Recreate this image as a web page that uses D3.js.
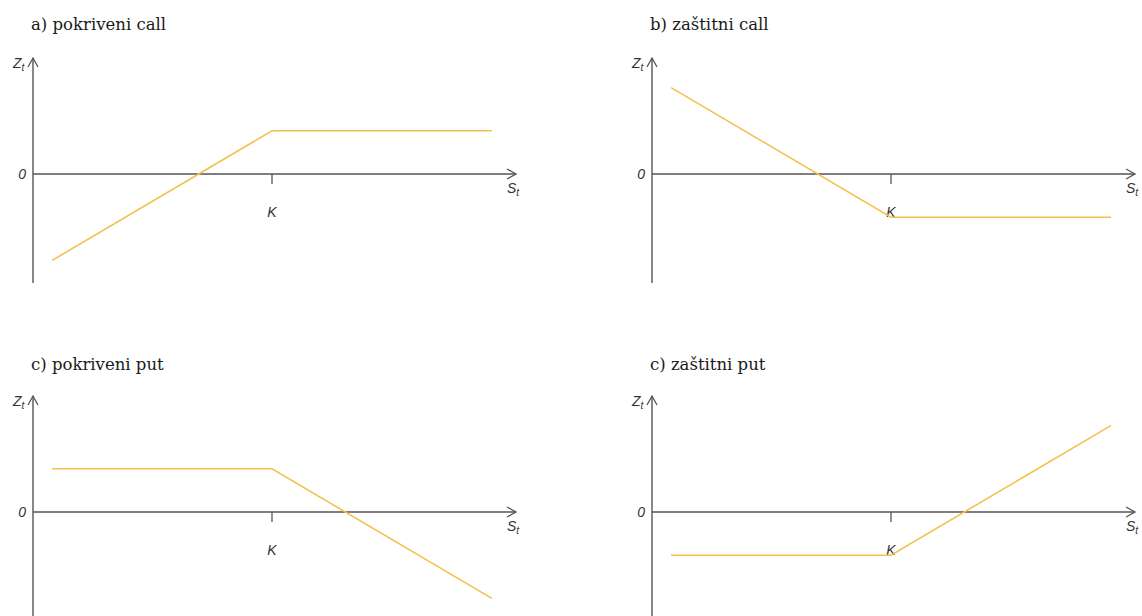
<!DOCTYPE html>
<html>
<head>
<meta charset="utf-8">
<script src="https://cdn.jsdelivr.net/npm/d3@7"></script>
<style>
  body { margin: 0; background: #fff; }
  .title { font-family: "DejaVu Serif", serif; font-size: 16.5px; fill: #1a1a1a; }
  .lab { font-family: "Liberation Sans", Arial, sans-serif; font-size: 14px; font-style: italic; fill: #333; }
</style>
</head>
<body>
<svg id="chart" width="1142" height="616"></svg>
<script>
// payoff diagrams: S_t vs Z_t, strike K
var titles = ["a) pokriveni call", "b) zaštitni call", "c) pokriveni put", "c) zaštitni put"];
var strikeK = 5;
var sStart = 0.4, sEnd = 9.6;
var payoffs = [
	[-4, 2, 2],   // pokriveni call
	[4, -2, -2],  // zastitni call
	[2, 2, -4],   // pokriveni put
	[-2, -2, 4]   // zastitni put
];
var sValues = [sStart, strikeK, sEnd];

var svg = d3.select("#chart");
var origins = [[33, 174], [652, 174], [33, 512], [652, 512]];

var x = d3.scaleLinear().domain([0, 10]).range([0, 478]);
var y = d3.scaleLinear().domain([0, 1]).range([0, -21.6]);

var axisColor = "#555";
var lineColor = "#f5c04e";

origins.forEach(function(o, i) {
	var g = svg.append("g").attr("transform", "translate(" + o[0] + "," + o[1] + ")");

	g.append("text").attr("class", "title")
		.attr("x", -2).attr("y", (i < 2 ? 30 : 370) - o[1])
		.text(titles[i]);

	// y axis
	var yTop = -116, yBot = i < 2 ? 109 : 120;
	g.append("line").attr("x1", 0).attr("x2", 0).attr("y1", yTop).attr("y2", yBot)
		.attr("stroke", axisColor).attr("stroke-width", 1.4);
	g.append("path").attr("d", "M-5," + (yTop + 9) + "L0," + yTop + "L5," + (yTop + 9))
		.attr("fill", "none").attr("stroke", axisColor).attr("stroke-width", 1.3);

	// x axis
	var xEnd = 483;
	g.append("line").attr("x1", 0).attr("x2", xEnd).attr("y1", 0).attr("y2", 0)
		.attr("stroke", axisColor).attr("stroke-width", 1.4);
	g.append("path").attr("d", "M" + (xEnd - 9) + ",-5L" + xEnd + ",0L" + (xEnd - 9) + ",5")
		.attr("fill", "none").attr("stroke", axisColor).attr("stroke-width", 1.3);

	// strike tick
	g.append("line").attr("x1", x(strikeK)).attr("x2", x(strikeK)).attr("y1", 0).attr("y2", 10)
		.attr("stroke", axisColor).attr("stroke-width", 1.3);

	// labels
	g.append("text").attr("class", "lab").attr("x", -7).attr("y", 5)
		.attr("text-anchor", "end").text("0");
	var zt = g.append("text").attr("class", "lab").attr("x", -20).attr("y", -106);
	zt.append("tspan").text("Z");
	zt.append("tspan").attr("font-size", "10px").attr("dy", 3).text("t");
	var st = g.append("text").attr("class", "lab").attr("x", xEnd - 9).attr("y", 19);
	st.append("tspan").text("S");
	st.append("tspan").attr("font-size", "10px").attr("dy", 3).text("t");
	g.append("text").attr("class", "lab").attr("x", x(strikeK)).attr("y", 43)
		.attr("text-anchor", "middle").text("K");

	// payoff line
	var pts = sValues.map(function(s, j) { return [s, payoffs[i][j]]; });
	g.append("path").datum(pts)
		.attr("d", d3.line().x(function(d) { return x(d[0]); }).y(function(d) { return y(d[1]); }))
		.attr("fill", "none").attr("stroke", lineColor).attr("stroke-width", 1.6);
});
</script>
</body>
</html>
